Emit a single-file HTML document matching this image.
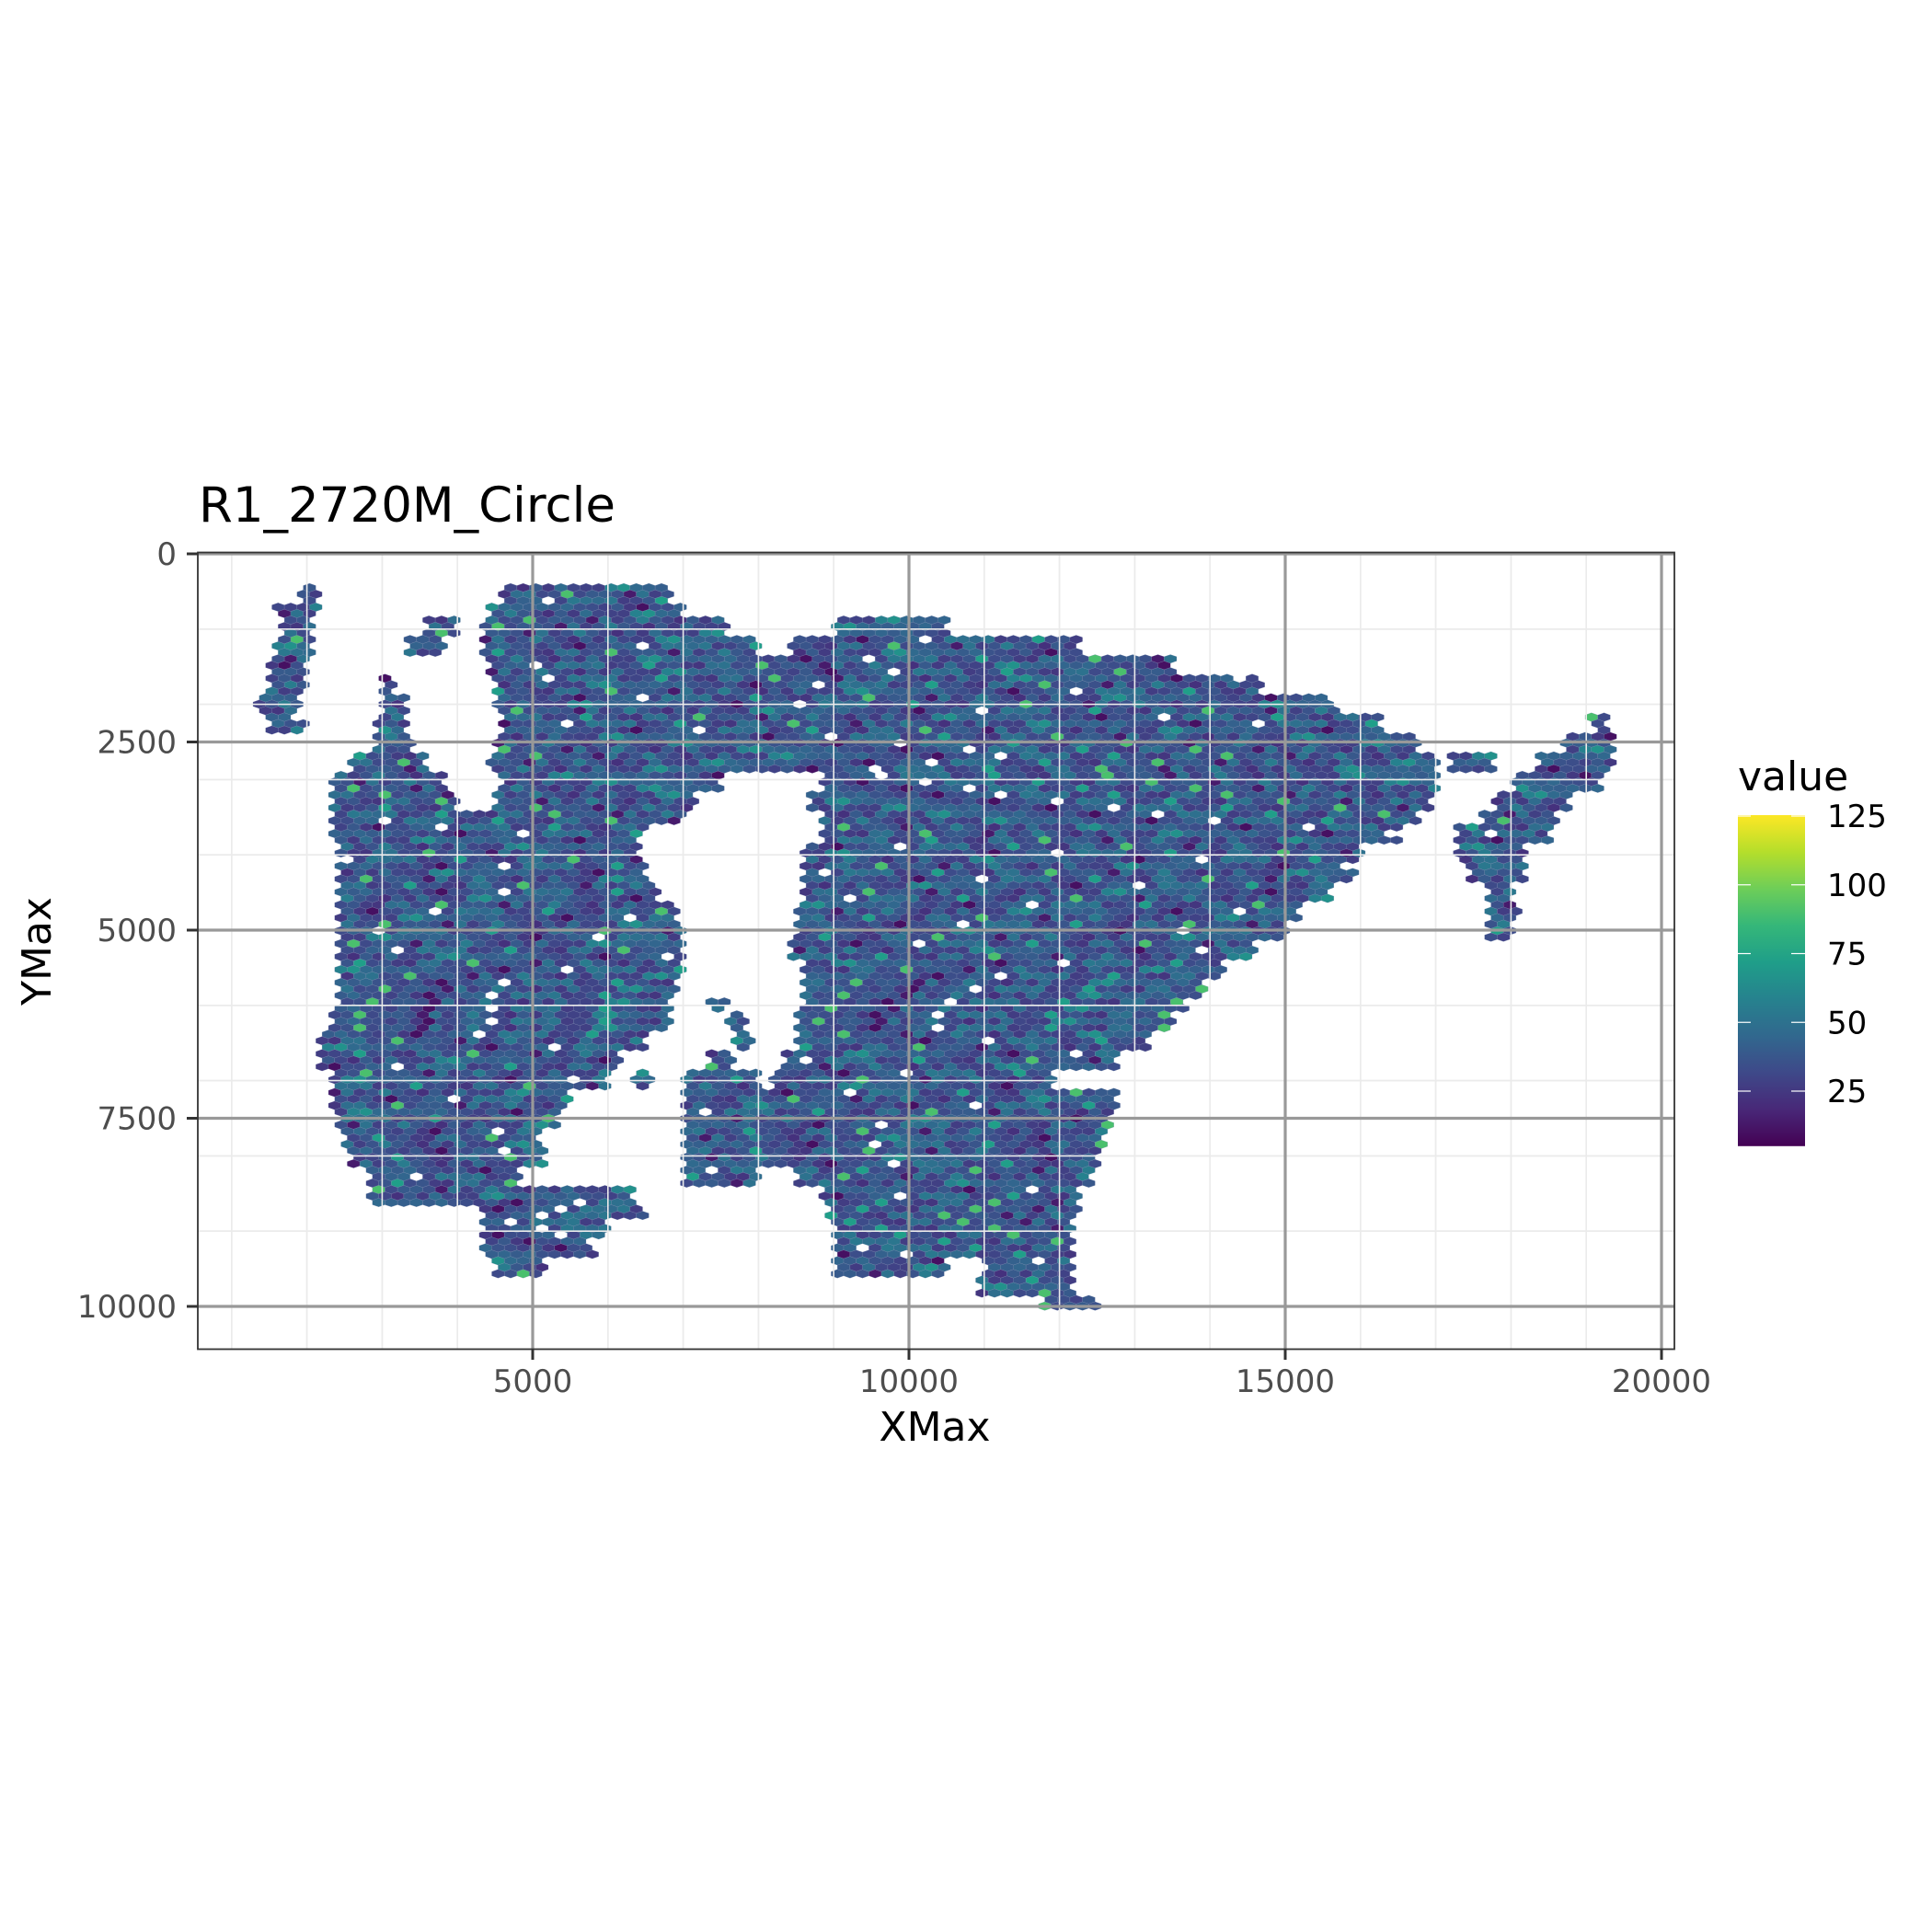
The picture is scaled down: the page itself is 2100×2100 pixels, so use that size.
<!DOCTYPE html>
<html><head><meta charset="utf-8">
<style>
html,body{margin:0;padding:0;background:#fff;}
svg{display:block;font-family:"DejaVu Sans","Liberation Sans",sans-serif;}
</style></head>
<body>
<svg id="chart" width="2100" height="2100" viewBox="0 0 2100 2100" xmlns="http://www.w3.org/2000/svg">
<rect width="2100" height="2100" fill="#fff"/>
<text x="216" y="567" font-size="53" fill="#000">R1_2720M_Circle</text>
<g id="minor-grid"></g>
<g id="hexes"></g>
<g id="grid-top"></g>
<rect x="215" y="600.5" width="1605" height="866" fill="none" stroke="#333" stroke-width="1.8"/>
<g id="axes"></g>
<text x="1016" y="1566" font-size="44" text-anchor="middle" fill="#000">XMax</text>
<text x="55" y="1034" font-size="44" text-anchor="middle" fill="#000" transform="rotate(-90 55 1034)">YMax</text>
<g id="legend">
<text x="1889" y="859" font-size="44" fill="#000">value</text>
</g>
</svg>
<script>
// ---- data ----
const xTicks = [5000, 10000, 15000, 20000];
const yTicks = [0, 2500, 5000, 7500, 10000];
const legendTicks = [25, 50, 75, 100, 125];
const rowY = [500,750,1000,1250,1500,1750,2000,2250,2500,2750,3000,3250,3500,3750,4000,4250,4500,4750,5000,5250,5500,5750,6000,6250,6500,6750,7000,7250,7500,7750,8000,8250,8500,8750,9000,9250,9500,9750,10000];
const rowSpans = [
 [[4600,6800],[1900,2200]],
 [[4400,7000],[1600,2200]],
 [[4300,7600],[9000,10500],[1700,2100],[3600,4000]],
 [[4300,8000],[8400,12300],[1600,2100],[3300,3800]],
 [[4400,13500],[1500,2000]],
 [[4500,14700],[1500,2000],[3000,3200]],
 [[4500,15700],[1300,1900],[3000,3300]],
 [[4600,16300],[1500,2000],[2900,3300],[19000,19300]],
 [[4500,16800],[2900,3400],[18700,19400]],
 [[4400,17000],[2600,3600],[17200,17800],[18400,19400]],
 [[2300,3800],[4600,7500],[8800,17000],[18000,19200]],
 [[2300,4000],[4500,7200],[8700,16900],[17800,18800]],
 [[2300,7000],[8800,16800],[17600,18600]],
 [[2300,6500],[8800,16500],[17300,17700],[17800,18500]],
 [[2400,6400],[8600,16000],[17300,18200]],
 [[2400,6500],[8600,15900],[17400,18200]],
 [[2400,6700],[8600,15600],[17600,18000]],
 [[2400,6900],[8500,15200],[17700,18100]],
 [[2400,7000],[8500,15000],[17700,18000]],
 [[2400,7000],[8400,14600]],
 [[2400,7000],[8600,14200]],
 [[2400,6900],[8600,13900]],
 [[2400,6800],[8600,13700],[7300,7600]],
 [[2300,6800],[8500,13500],[7600,7800]],
 [[2200,6500],[8500,13200],[7700,7900]],
 [[2200,6200],[8300,12800],[7300,7700]],
 [[2300,6000],[7000,8000],[8200,11900],[6300,6600]],
 [[2300,5500],[7000,12800]],
 [[2400,5300],[7000,12700]],
 [[2500,5100],[7000,12600]],
 [[2600,5200],[7000,12500]],
 [[2800,4800],[7000,8000],[8500,12400]],
 [[2800,6300],[8800,12300]],
 [[4300,6500],[8900,12300]],
 [[4300,6000],[9000,12200]],
 [[4300,5800],[9000,12200]],
 [[4500,5200],[9000,10500],[11000,12200]],
 [[10900,12200]],
 [[11800,12500]]
];
// 0 = empty (white) cell
const cellValues = [38,28,45,33,52,24,40,31,58,36,42,27,48,35,22,66,34,44,30,50,14,39,46,29,0,37,32,50,26,43,38,30,72,35,28,47,41,25,53,33,90,36,31,44,10,49,37,32,55,29,40,34,46,27,39];
// ---- scales ----
const X = v => 579 + (v - 5000) * 0.0818;
const Y = v => 602 + v * 0.0818;
const LY = v => 1186 - (v - 25) * 2.99;
const vir = ["#440154","#482878","#3e4989","#31688e","#26828e","#1f9e89","#35b779","#6ece58","#b5de2b","#fde725"];
function color(v){
  let t = Math.max(0, Math.min(1, (v - 5) / 120)) * 9;
  let i = Math.min(8, Math.floor(t)), f = t - i;
  const a = vir[i], b = vir[i+1];
  const c = k => Math.round(parseInt(a.substr(k,2),16)*(1-f) + parseInt(b.substr(k,2),16)*f);
  return `rgb(${c(1)},${c(3)},${c(5)})`;
}
const NS = "http://www.w3.org/2000/svg";
function mk(tag, attrs, parent){ const e = document.createElementNS(NS, tag); for (const k in attrs) e.setAttribute(k, attrs[k]); parent.appendChild(e); return e; }
const mg = document.getElementById('minor-grid');
for (let v = 1000; v <= 20000; v += 1000){
  const l = mk('line', {x1:X(v), x2:X(v), y1:600, y2:1467, stroke:'#ebebeb', 'stroke-width':1.6}, mg);
  
  
}
for (let v = 0; v <= 10000; v += 1000){
  const l = mk('line', {x1:215, x2:1820, y1:Y(v), y2:Y(v), stroke:'#ebebeb', 'stroke-width':1.6}, mg);
  
  
}
const hg = document.getElementById('hexes');
const rowStep = 86, colStep = 167;
const hw = colStep * 0.0818, hh = rowStep * 0.0818 / 0.75;
let idx = 0;
for (let r = 0, y = 450; y <= 10080; r++, y += rowStep){
  let best = 0;
  for (let k = 0; k < rowY.length; k++) if (Math.abs(rowY[k] - y) < Math.abs(rowY[best] - y)) best = k;
  const spans = rowSpans[best];
  const off = (r % 2) ? colStep / 2 : 0;
  for (let x = 1200 + off; x <= 19500; x += colStep){
    if (!spans.some(s => x >= s[0] && x <= s[1])) continue;
    const v = cellValues[(idx * 7 + r * 3) % cellValues.length]; idx++;
    if (v === 0) continue;
    const cx = X(x), cy = Y(y);
    const pts = [[0,-hh/2],[hw/2,-hh/4],[hw/2,hh/4],[0,hh/2],[-hw/2,hh/4],[-hw/2,-hh/4]]
      .map(p => (cx+p[0]).toFixed(1)+','+(cy+p[1]).toFixed(1)).join(' ');
    const p = mk('polygon', {points: pts, fill: color(v), stroke:'#7d8bb0', 'stroke-width':0.5, 'stroke-opacity':0.5}, hg);
    
    
  }
}
const gt = document.getElementById('grid-top');
for (let v = 1000; v <= 20000; v += 1000){
  if (v % 5000 === 0) continue;
  const l = mk('line', {x1:X(v), x2:X(v), y1:600, y2:1467, stroke:'#ebebeb', 'stroke-width':1.6}, gt);
  
  
}
for (let v = 1000; v <= 10000; v += 1000){
  if (v % 2500 === 0) continue;
  const l = mk('line', {x1:215, x2:1820, y1:Y(v), y2:Y(v), stroke:'#ebebeb', 'stroke-width':1.6}, gt);
  
  
}
const ax = document.getElementById('axes');
xTicks.forEach(v => {
  const l = mk('line', {x1:X(v), x2:X(v), y1:600, y2:1467, stroke:'#999', 'stroke-width':3.2}, gt);
  
  
  const t = mk('line', {x1:X(v), x2:X(v), y1:1467, y2:1478, stroke:'#333', 'stroke-width':3}, ax);
  
  
  const tx = mk('text', {x:X(v), y:1513, 'font-size':34, 'text-anchor':'middle', fill:'#4d4d4d'}, ax);
  tx.textContent = v;
  
  
});
yTicks.forEach(v => {
  const l = mk('line', {x1:215, x2:1820, y1:Y(v), y2:Y(v), stroke:'#999', 'stroke-width':3.2}, gt);
  
  
  const t = mk('line', {x1:203, x2:215, y1:Y(v), y2:Y(v), stroke:'#333', 'stroke-width':3}, ax);
  
  
  const tx = mk('text', {x:192, y:Y(v)+12, 'font-size':34, 'text-anchor':'end', fill:'#4d4d4d'}, ax);
  tx.textContent = v;
  
  
});
const lg = document.getElementById('legend');
const defs = mk('defs', {}, lg);
const grad = mk('linearGradient', {id:'vg', x1:0, y1:1, x2:0, y2:0}, defs);
vir.forEach((c, i) => mk('stop', {offset: (i/9), 'stop-color': c}, grad));
const bar = mk('rect', {x:1889, y:LY(125)-1, width:73, height:LY(5)-LY(125)+1, fill:'url(#vg)'}, lg);


legendTicks.forEach(v => {
  mk('line', {x1:1889, x2:1903, y1:LY(v), y2:LY(v), stroke:'#fff', 'stroke-width':1.2}, lg);
  mk('line', {x1:1947, x2:1962, y1:LY(v), y2:LY(v), stroke:'#fff', 'stroke-width':1.2}, lg);
  const tx = mk('text', {x:1986, y:LY(v)+12, 'font-size':34, fill:'#000'}, lg);
  tx.textContent = v;
  
  
});
</script>
</body></html>
